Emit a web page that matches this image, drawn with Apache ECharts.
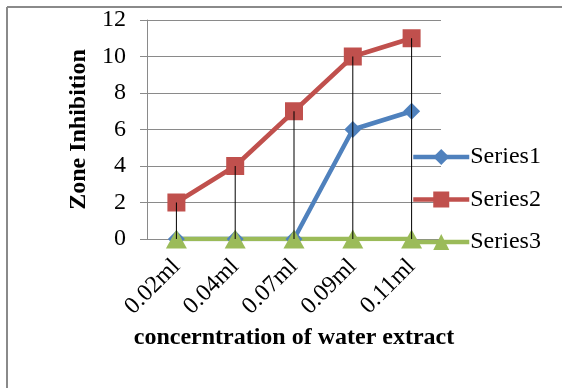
<!DOCTYPE html>
<html>
<head>
<meta charset="utf-8">
<script src="https://cdn.jsdelivr.net/npm/echarts@6/dist/echarts.min.js"></script>
<style>html,body{margin:0;padding:0;background:#fff}#root{width:562px;height:388px}</style>
</head>
<body>
<div id="root"></div>
<script>
// chart data
const categories = ['0.02ml', '0.04ml', '0.07ml', '0.09ml', '0.11ml'];
const series1 = [0, 0, 0, 6, 7];
const series2 = [2, 4, 7, 10, 11];
const series3 = [0, 0, 0, 0, 0];
const yTicks = { min: 0, max: 12, interval: 2 };

const FONT = 'Liberation Serif';
const GREY = '#8a8a8a';

function lineSeries(name, data, color, symbol, size){
  return {
    name: name, type: 'line', data: data,
    symbol: symbol, symbolSize: size,
    lineStyle: { color: color, width: 4.5 },
    itemStyle: { color: color },
    z: 2
  };
}

// frame of the chart area (only top and left edges fall inside the picture)
function frameEdge(x1, y1, x2, y2){
  return { type: 'line', silent: true, shape: { x1: x1, y1: y1, x2: x2, y2: y2 },
           style: { stroke: GREY, lineWidth: 2 } };
}

const chart = echarts.init(document.getElementById('root'));
chart.setOption({
  animation: false,
  textStyle: { fontFamily: FONT },
  graphic: [frameEdge(7, 7, 562, 7), frameEdge(7, 7, 7, 388)],
  grid: { left: 147, right: 121, top: 20, bottom: 149 },
  legend: {
    data: ['Series1', 'Series2', 'Series3'],
    orient: 'vertical', left: 411, top: 145, padding: 0,
    itemWidth: 56, itemHeight: 20, itemGap: 18.5,
    lineStyle: { width: 4.5 },
    textStyle: { fontFamily: FONT, fontSize: 24, color: '#000', padding: [0, 0, 0, -4] }
  },
  xAxis: {
    type: 'category', data: categories,
    name: 'concerntration of water extract', nameLocation: 'middle', nameGap: 82,
    nameTextStyle: { fontFamily: FONT, fontSize: 24, fontWeight: 'bold', color: '#000' },
    axisLine: { lineStyle: { color: GREY, width: 1 } },
    axisTick: { show: false },
    axisLabel: { rotate: 45, margin: 24, fontFamily: FONT, fontSize: 24, color: '#000' }
  },
  yAxis: {
    type: 'value', min: yTicks.min, max: yTicks.max, interval: yTicks.interval,
    name: 'Zone Inhibition', nameLocation: 'middle', nameGap: 52, nameRotate: 90,
    nameTextStyle: { fontFamily: FONT, fontSize: 24, fontWeight: 'bold', color: '#000' },
    axisLine: { show: true, lineStyle: { color: GREY, width: 1 } },
    axisTick: { show: true, length: 7, lineStyle: { color: GREY } },
    splitLine: { lineStyle: { color: GREY, width: 1 } },
    axisLabel: { margin: 21, fontFamily: FONT, fontSize: 24, color: '#000' }
  },
  series: [
    lineSeries('Series1', series1, '#4F81BD', 'diamond', 17),
    lineSeries('Series2', series2, '#C0504D', 'rect', 18),
    lineSeries('Series3', series3, '#9BBB59', 'triangle', [21, 19]),
    // drop lines from Series2 down to the axis
    { name: 'drop', type: 'bar', data: series2, barWidth: 1,
      itemStyle: { color: '#000' }, z: 5 }
  ]
});
</script>
</body>
</html>
